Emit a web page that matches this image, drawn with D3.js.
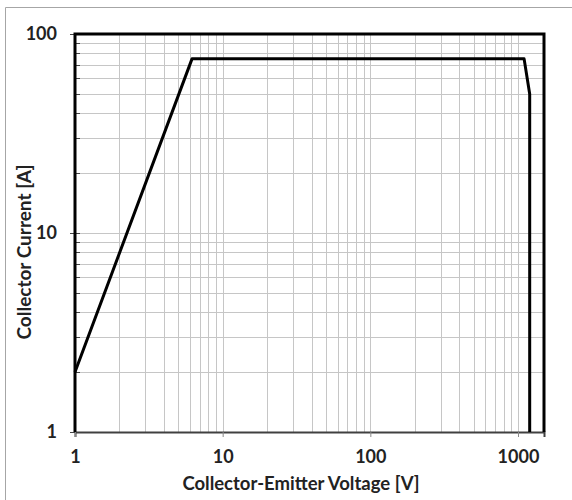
<html lang="en">
  <head>
    <meta charset="utf-8">
    <title>Safe Operating Area</title>
    <script src="https://d3js.org/d3.v7.min.js"></script>
    <style>
      body { margin: 0; background: #fff; }
    </style>
  </head>
  <body>
    <script type="text/javascript">
      var w = 572;
      var h = 500;
      var margin = {top: 34, right: 28, bottom: 68, left: 75};
      var innerWidth = w - margin.left - margin.right;
      var innerHeight = h - margin.top - margin.bottom;
      var font = "Lato, 'Open Sans', sans-serif";

      // data
      var voltage = [1, 6.2, 1100, 1200, 1200];
      var current = [2, 75, 75, 50, 1];
      var xTicks = [1, 10, 100, 1000];
      var yTicks = [1, 10, 100];
      var xTitle = "Collector-Emitter Voltage [V]";
      var yTitle = "Collector Current [A]";

      var xScale = d3.scaleLog().domain([1, 1500]).range([0, innerWidth]);
      var yScale = d3.scaleLog().domain([1, 100]).range([innerHeight, 0]);

      // minor grid values (1..9 in every decade)
      var xGrid = [], yGrid = [];
      [1, 10, 100, 1000].forEach(function(d) {
        for (var k = 1; k < 10; k++) { if (d * k <= 1500) xGrid.push(d * k); }
      });
      [1, 10].forEach(function(d) {
        for (var k = 1; k < 10; k++) yGrid.push(d * k);
      });
      yGrid.push(100);

      var svg = d3.select("body").append("svg")
          .attr("width", w)
          .attr("height", h);

      // outer chart border (only top and left edges are in view)
      svg.append("path")
          .attr("d", "M5.5," + h + "V7.5H" + w)
          .attr("fill", "none")
          .attr("stroke", "#a6a6a6");

      var g = svg.append("g")
          .attr("transform", "translate(" + margin.left + "," + margin.top + ")");

      g.append("g").selectAll("line")
          .data(xGrid)
          .enter().append("line")
          .attr("x1", d => Math.round(xScale(d)) + 0.5)
          .attr("x2", d => Math.round(xScale(d)) + 0.5)
          .attr("y1", 0).attr("y2", innerHeight)
          .attr("stroke", "#c6c6c6");

      g.append("g").selectAll("line")
          .data(yGrid)
          .enter().append("line")
          .attr("y1", d => Math.round(yScale(d)) + 0.5)
          .attr("y2", d => Math.round(yScale(d)) + 0.5)
          .attr("x1", 0).attr("x2", innerWidth)
          .attr("stroke", "#c6c6c6");

      // minor ticks on the y axis, inside
      g.append("g").selectAll("line")
          .data(yGrid)
          .enter().append("line")
          .attr("y1", d => Math.round(yScale(d)) + 0.5)
          .attr("y2", d => Math.round(yScale(d)) + 0.5)
          .attr("x1", 0).attr("x2", 5)
          .attr("stroke", "#444");

      var xAxis = d3.axisBottom(xScale)
          .tickValues(xTicks)
          .tickFormat(d3.format("d"))
          .tickSize(5)
          .tickPadding(13);
      var yAxis = d3.axisLeft(yScale)
          .tickValues(yTicks)
          .tickFormat(d3.format("d"))
          .tickSize(5)
          .tickPadding(13);

      var gx = g.append("g")
          .attr("transform", "translate(0," + innerHeight + ")")
          .call(xAxis)
          .attr("font-size", 18)
          .attr("font-family", font)
          .attr("font-weight", "bold");
      gx.select(".domain").attr("stroke", "#404040").attr("stroke-width", 2);
      gx.selectAll(".tick line").attr("stroke", "#888");
      gx.selectAll("text").attr("fill", "#222");

      var gy = g.append("g").call(yAxis)
          .attr("font-size", 18)
          .attr("font-family", font)
          .attr("font-weight", "bold");
      gy.select(".domain").remove();
      gy.selectAll(".tick line").attr("stroke", "#444");
      gy.selectAll("text").attr("fill", "#222");

      // thick frame: left, top, right
      g.append("path")
          .attr("d", "M0," + innerHeight + "V0H" + innerWidth + "V" + innerHeight)
          .attr("fill", "none")
          .attr("stroke", "#000")
          .attr("stroke-width", 3);

      // the SOA boundary
      var line = d3.line()
          .x((d, i) => xScale(voltage[i]))
          .y((d, i) => yScale(current[i]));
      g.append("path")
          .datum(voltage)
          .attr("d", line)
          .attr("fill", "none")
          .attr("stroke", "#000")
          .attr("stroke-width", 3)
          .attr("stroke-linejoin", "round");

      svg.append("text")
          .attr("x", 301)
          .attr("y", 490)
          .attr("text-anchor", "middle")
          .attr("font-family", font)
          .attr("font-weight", "bold")
          .attr("font-size", 18.5)
          .attr("fill", "#222")
          .text(xTitle);

      svg.append("text")
          .attr("transform", "translate(31,252) rotate(-90)")
          .attr("text-anchor", "middle")
          .attr("font-family", font)
          .attr("font-weight", "bold")
          .attr("font-size", 19)
          .attr("fill", "#222")
          .text(yTitle);
    </script>
  </body>
</html>
